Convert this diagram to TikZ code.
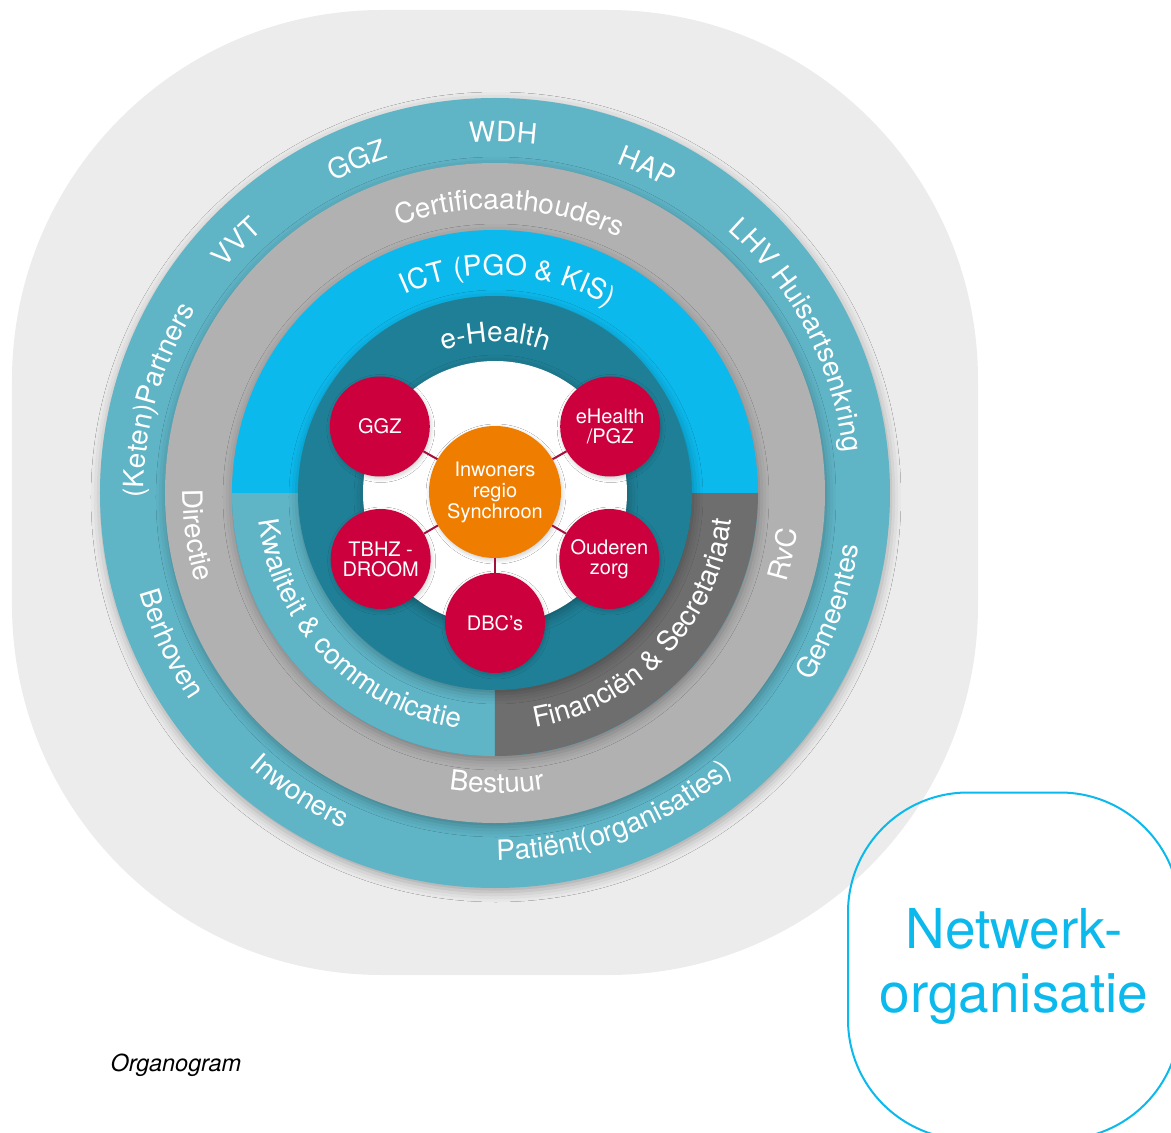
\documentclass[tikz,border=0pt]{standalone}
\usepackage{fontspec}
\setmainfont{TeX Gyre Heros}
\usetikzlibrary{decorations.text,shadows.blur}

\definecolor{tealout}{RGB}{95,180,198}
\definecolor{ringgray}{RGB}{177,177,177}
\definecolor{ictblue}{RGB}{12,185,236}
\definecolor{fingray}{RGB}{110,110,110}
\definecolor{ehteal}{RGB}{31,127,150}
\definecolor{bggray}{RGB}{236,236,236}
\definecolor{dotred}{RGB}{204,0,61}
\definecolor{linered}{RGB}{165,15,60}
\definecolor{inworange}{RGB}{239,125,0}

\newcommand{\ringfont}{\fontsize{28}{28}\selectfont}
% text on the upper half (clockwise), on the lower half (counterclockwise)
\newcommand{\toptext}[3]{%
  \path[decorate,decoration={text along path,text align=center,text color=white,text={|\ringfont|#3}}]
    (#1+80:#2) arc[start angle=#1+80,end angle=#1-80,radius=#2];}
\newcommand{\bottext}[3]{%
  \path[decorate,decoration={text along path,text align=center,text color=white,text={|\ringfont|#3}}]
    (#1-80:#2) arc[start angle=#1-80,end angle=#1+80,radius=#2];}

\begin{document}
\begin{tikzpicture}[x=1pt,y=1pt,
  ring/.style={blur shadow={shadow xshift=1pt,shadow yshift=-4pt,shadow blur radius=10pt,shadow opacity=30}},
  dotshadow/.style={blur shadow={shadow xshift=1pt,shadow yshift=-2pt,shadow blur radius=4pt,shadow opacity=20}},
  dot/.style={circle,fill=dotred,text=white,minimum size=100pt,inner sep=0pt,align=center,
    font=\fontsize{20}{20}\selectfont,dotshadow},
  link/.style={draw=linered,line width=2pt}]
\useasboundingbox (-495,-640) rectangle (676,493);

\fill[bggray,rounded corners=370pt] (-483,-482) rectangle (483,483);

\fill[tealout,ring] (0,0) circle (395);
\fill[ringgray,ring] (0,0) circle (330);
\fill[ictblue,ring] (0,0) circle (263);
\fill[tealout] (0,0) -- (180:263) arc[start angle=180,end angle=270,radius=263] -- cycle;
\fill[fingray] (0,0) -- (270:263) arc[start angle=270,end angle=360,radius=263] -- cycle;
\fill[ehteal,ring] (0,0) circle (197);
\fill[white,ring] (0,0) circle (132);

\toptext{88.7}{351}{WDH}
\toptext{65}{351}{HAP}
\toptext{112.5}{351}{GGZ}
\toptext{135.8}{351}{VVT}
\toptext{164.6}{351}{(Keten)Partners}
\toptext{27.5}{351}{LHV Huisartsenkring}
\bottext{205}{369}{Berhoven}
\bottext{236.8}{368}{Inwoners}
\bottext{290.3}{367}{Patiënt(organisaties)}
\bottext{340.5}{368}{Gemeentes}

\toptext{87}{284}{Certificaathouders}
\bottext{188}{312}{Directie}
\bottext{270.4}{300}{Bestuur}
\bottext{348}{305}{RvC}

\toptext{86.5}{218}{ICT (PGO {\&} KIS)}
\bottext{224}{238}{Kwaliteit {\&} communicatie}
\bottext{316.6}{238}{Financiën {\&} Secretariaat}

\toptext{90}{151}{e-Health}

\node[circle,fill=inworange,text=white,minimum size=132pt,inner sep=0pt,align=center,
  font=\fontsize{20}{21}\selectfont,dotshadow] (inw) at (0,1) {Inwoners\\regio\\Synchroon};
\node[dot] (ggz) at (150:133) {GGZ};
\node[dot] (ehealth) at (30:133) {eHealth\\/PGZ};
\node[dot] (tbhz) at (210:132) {TBHZ -\\DROOM};
\node[dot] (ouderen) at (330:132) {Ouderen\\zorg};
\node[dot] (dbc) at (270:130) {DBC’s};

\draw[link] (inw) -- (ggz);
\draw[link] (inw) -- (ehealth);
\draw[link] (inw) -- (tbhz);
\draw[link] (inw) -- (ouderen);
\draw[link] (inw) -- (dbc);

\node[draw=ictblue,line width=2pt,rounded corners=120pt,minimum width=332pt,minimum height=347pt,
  text=ictblue,align=center,font=\fontsize{55}{64}\selectfont] (netwerk) at (519,-473) {Netwerk-\\organisatie};

\node[anchor=base west,font=\fontsize{23.5}{23.5}\selectfont\itshape] (organogram) at (-388,-578) {Organogram};
\end{tikzpicture}
\end{document}
